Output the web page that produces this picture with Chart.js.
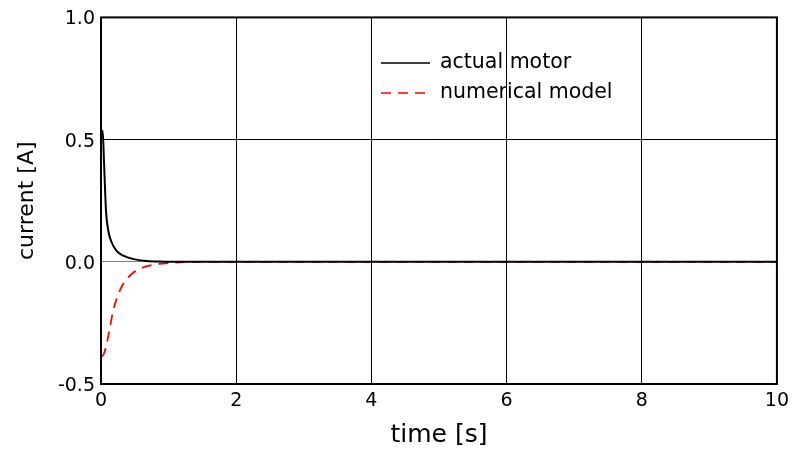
<!DOCTYPE html>
<html>
<head>
<meta charset="utf-8">
<script src="https://cdn.jsdelivr.net/npm/chart.js@4.4.1/dist/chart.umd.min.js"></script>
<style>
  html, body { margin: 0; padding: 0; background: #fff; }
  canvas { display: block; }
</style>
</head>
<body>
<canvas id="c" width="795" height="454"></canvas>
<script>
// ---- data ----
const motorTime    = [0, 0.01, 0.025, 0.044, 0.074, 0.108, 0.158, 0.23, 0.33, 0.48, 0.67, 0.92, 1.2, 2, 4, 6, 8, 10];
const motorCurrent = [0.52, 0.535, 0.536, 0.413, 0.209, 0.127, 0.079, 0.045, 0.025, 0.011, 0.003, 0.0005, 0, 0, 0, 0, 0, 0];
const modelTime    = [0, 0.025, 0.045, 0.083, 0.132, 0.18, 0.23, 0.30, 0.38, 0.48, 0.625, 0.82, 1.07, 1.3, 2, 4, 6, 8, 10];
const modelCurrent = [-0.385, -0.385, -0.375, -0.337, -0.269, -0.2, -0.153, -0.105, -0.071, -0.044, -0.023, -0.01, -0.004, -0.001, 0, 0, 0, 0, 0];
const seriesNames  = ['actual motor', 'numerical model'];
const xTitle = 'time [s]';
const yTitle = 'current [A]';
const yTicks = [-0.5, 0.0, 0.5, 1.0];
const xTicks = [0, 2, 4, 6, 8, 10];

const toXY = (xs, ys) => xs.map((x, i) => ({ x: x, y: ys[i] }));

const framePlugin = {
  id: 'frame',
  afterDraw(chart) {
    const { ctx, chartArea: a } = chart;
    ctx.save();
    ctx.strokeStyle = '#000';
    ctx.lineWidth = 2;
    ctx.strokeRect(a.left, a.top, a.right - a.left, a.bottom - a.top);
    ctx.restore();
  }
};

const legendPlugin = {
  id: 'innerLegend',
  afterDatasetsDraw(chart) {
    const { ctx } = chart;
    const x0 = 381, x1 = 430, tx = 440;
    const ys = [63, 93];
    ctx.save();
    chart.data.datasets.forEach((ds, i) => {
      ctx.beginPath();
      ctx.strokeStyle = ds.borderColor;
      ctx.lineWidth = 1.5;
      ctx.setLineDash(ds.borderDash || []);
      ctx.moveTo(x0, ys[i]);
      ctx.lineTo(x1, ys[i]);
      ctx.stroke();
      ctx.setLineDash([]);
      ctx.fillStyle = '#000';
      ctx.font = '20.5px "DejaVu Sans"';
      ctx.textBaseline = 'middle';
      ctx.textAlign = 'left';
      ctx.fillText(ds.label, tx, ys[i]);
    });
    ctx.restore();
  }
};

new Chart(document.getElementById('c'), {
  type: 'line',
  data: {
    datasets: [
      {
        label: seriesNames[0],
        data: toXY(motorTime, motorCurrent),
        borderColor: '#000000',
        borderWidth: 2,
        pointRadius: 0,
        cubicInterpolationMode: 'monotone',
        fill: false
      },
      {
        label: seriesNames[1],
        data: toXY(modelTime, modelCurrent),
        borderColor: '#ff0000',
        borderWidth: 1.8,
        borderDash: [10, 7],
        pointRadius: 0,
        cubicInterpolationMode: 'monotone',
        fill: false
      }
    ]
  },
  options: {
    responsive: false,
    animation: false,
    layout: { padding: { top: 16, right: 17, left: 0, bottom: 0 } },
    plugins: {
      legend: { display: false },
      tooltip: { enabled: false }
    },
    scales: {
      x: {
        type: 'linear',
        min: 0, max: 10,
        afterBuildTicks: (s) => { s.ticks = xTicks.map(v => ({ value: v })); },
        afterFit: (s) => { s.height = 70; },
        border: { display: false },
        grid: {
          color: '#000',
          lineWidth: 1,
          drawTicks: false
        },
        ticks: {
          padding: 6,
          color: '#000',
          font: { family: '"DejaVu Sans"', size: 19 },
          maxRotation: 0,
          callback: (v) => String(v)
        },
        title: {
          display: true,
          text: xTitle,
          color: '#000',
          font: { family: '"DejaVu Sans"', size: 25 },
          padding: { top: 0, bottom: 4 }
        }
      },
      y: {
        type: 'linear',
        min: -0.5, max: 1.0,
        afterBuildTicks: (s) => { s.ticks = yTicks.map(v => ({ value: v })); },
        afterFit: (s) => { s.width = 101; },
        border: { display: false },
        grid: {
          color: (c) => (c.tick && c.tick.value === 0 ? '#808080' : '#000'),
          lineWidth: 1,
          drawTicks: false
        },
        ticks: {
          padding: 6,
          labelOffset: 2,
          color: '#000',
          font: { family: '"DejaVu Sans"', size: 19 },
          callback: (v) => Number(v).toFixed(1)
        },
        title: {
          display: true,
          text: yTitle,
          color: '#000',
          font: { family: '"DejaVu Sans"', size: 22 },
          padding: { top: 14, bottom: 0 }
        }
      }
    }
  },
  plugins: [framePlugin, legendPlugin]
});
</script>
</body>
</html>
